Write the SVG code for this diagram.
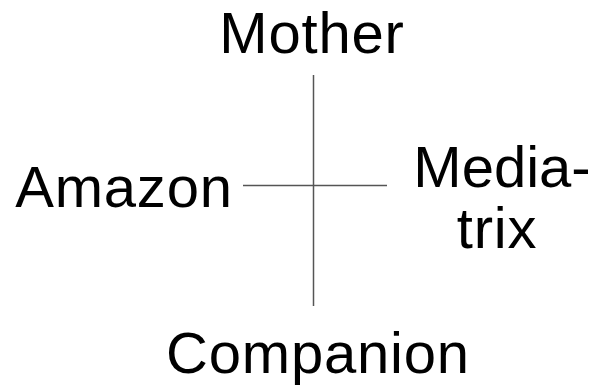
<svg xmlns="http://www.w3.org/2000/svg" width="595" height="385" viewBox="0 0 595 385">
<style>
text{font-family:"Liberation Sans",Arial,sans-serif;font-size:58px;fill:#000;text-anchor:middle;letter-spacing:0.8px}
.ln{stroke:#555;stroke-width:1.5;fill:none}
</style>
<rect width="595" height="385" fill="#fff"/>
<g id="connectors">
<line class="ln" x1="313.5" y1="75" x2="313.5" y2="306"/>
<line class="ln" x1="243" y1="185.5" x2="387" y2="185.5"/>
</g>
<g id="mother"><text x="312" y="53">Mother</text></g>
<g id="amazon"><text x="124" y="207">Amazon</text></g>
<g id="mediatrix"><text x="502" y="187" style="letter-spacing:0">Media-</text><text x="497" y="248">trix</text></g>
<g id="companion"><text x="318" y="373">Companion</text></g>
</svg>
